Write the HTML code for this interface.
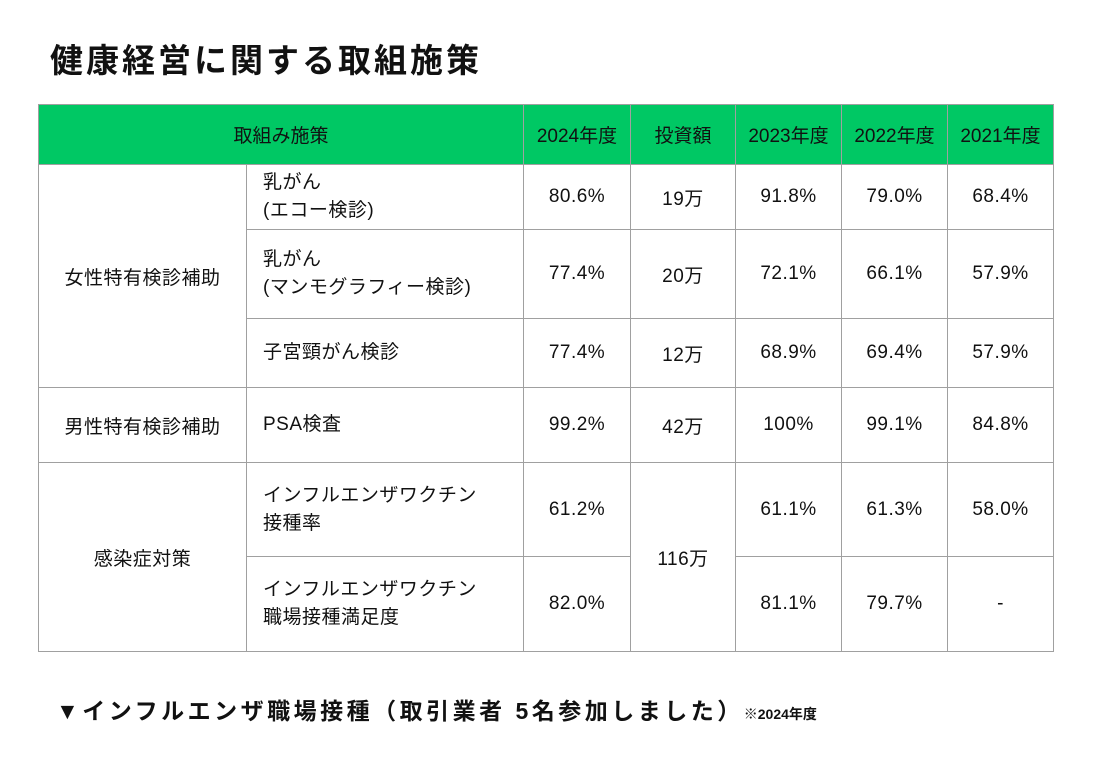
<!DOCTYPE html>
<html><head><meta charset="utf-8"><style>
body{margin:0;width:1118px;height:780px;background:#fff;font-family:"Liberation Sans","Noto Sans CJK JP",sans-serif;color:#111;position:relative;overflow:hidden}
h1{position:absolute;left:50px;top:34px;margin:0;font-size:33px;font-weight:bold;letter-spacing:3px}
table{position:absolute;left:38px;top:104px;border-collapse:collapse;table-layout:fixed;font-size:19px}
td,th{border:1.5px solid #a0a0a0;padding:0}
th{background:#00c864;font-weight:normal;height:59px}
td{text-align:center;letter-spacing:0.5px}
td.l{text-align:left;padding-left:16px;line-height:28px}
.note{position:absolute;left:56px;top:692px;font-size:23px;font-weight:bold;letter-spacing:3.5px}
.note small{font-size:14px;letter-spacing:0}
</style></head><body>
<h1>健康経営に関する取組施策</h1>
<table>
<colgroup><col style="width:208px"><col style="width:277px"><col style="width:107px"><col style="width:105px"><col style="width:106px"><col style="width:106px"><col style="width:106px"></colgroup>
<tr><th colspan="2">取組み施策</th><th>2024年度</th><th>投資額</th><th>2023年度</th><th>2022年度</th><th>2021年度</th></tr>
<tr style="height:65px"><td rowspan="3">女性特有検診補助</td><td class="l">乳がん<br>(エコー検診)</td><td>80.6%</td><td>19万</td><td>91.8%</td><td>79.0%</td><td>68.4%</td></tr>
<tr style="height:89px"><td class="l">乳がん<br>(マンモグラフィー検診)</td><td>77.4%</td><td>20万</td><td>72.1%</td><td>66.1%</td><td>57.9%</td></tr>
<tr style="height:69px"><td class="l">子宮頸がん検診</td><td>77.4%</td><td>12万</td><td>68.9%</td><td>69.4%</td><td>57.9%</td></tr>
<tr style="height:75px"><td>男性特有検診補助</td><td class="l">PSA検査</td><td>99.2%</td><td>42万</td><td>100%</td><td>99.1%</td><td>84.8%</td></tr>
<tr style="height:94px"><td rowspan="2">感染症対策</td><td class="l">インフルエンザワクチン<br>接種率</td><td>61.2%</td><td rowspan="2">116万</td><td>61.1%</td><td>61.3%</td><td>58.0%</td></tr>
<tr style="height:95px"><td class="l">インフルエンザワクチン<br>職場接種満足度</td><td>82.0%</td><td>81.1%</td><td>79.7%</td><td>-</td></tr>
</table>
<div class="note">▼インフルエンザ職場接種（取引業者 5名参加しました）<small>※2024年度</small></div>
</body></html>
